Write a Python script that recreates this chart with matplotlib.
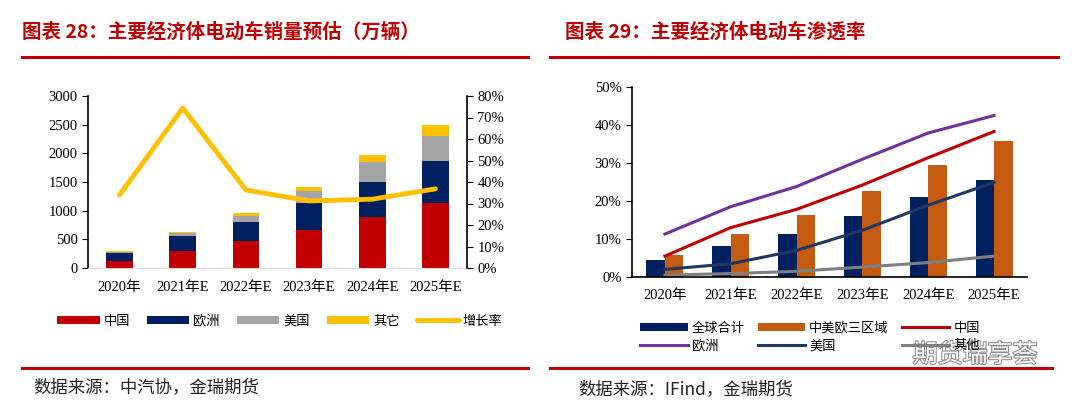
import numpy as np
import matplotlib
matplotlib.use('Agg')
import matplotlib.pyplot as plt
from matplotlib.lines import Line2D
import matplotlib.patheffects as pe

plt.rcParams['font.family'] = ['Liberation Serif', 'Noto Sans CJK SC']

years = ['2020年', '2021年E', '2022年E', '2023年E', '2024年E', '2025年E']

# 图表28 销量（万辆）
china = [115, 300, 463, 666, 897, 1130]
europe = [145, 250, 348, 474, 608, 735]
usa = [18, 58, 104, 203, 336, 440]
other = [22, 23, 46, 67, 122, 186]
growth = [34.0, 74.4, 36.3, 31.2, 32.0, 36.8]

# 图表29 渗透率（%）
global_total = [4.4, 8.2, 11.4, 16.1, 21.1, 25.5]
three_regions = [5.7, 11.4, 16.3, 22.7, 29.5, 35.8]
pen_china = [5.5, 13.0, 17.8, 24.2, 31.4, 38.3]
pen_europe = [11.3, 18.5, 23.8, 31.0, 37.9, 42.5]
pen_usa = [2.0, 3.5, 7.0, 12.3, 18.9, 24.9]
pen_other = [0.5, 0.9, 1.5, 2.6, 3.8, 5.5]

RED = '#C00000'
NAVY = '#002060'
GRAY = '#A5A5A5'
YELLOW = '#FFC000'
ORANGE = '#C55A11'
PURPLE = '#7030A0'
CJK = ['Noto Sans CJK SC', 'DejaVu Sans']
TICK = 10.5

fig = plt.figure(figsize=(10.8, 4.05), dpi=100)
W, H = 1080, 405

def px(x, y):
    return x / W, 1 - y / H

def hline(x0, x1, y):
    fig.add_artist(Line2D([x0 / W, x1 / W], [1 - y / H, 1 - y / H],
                          transform=fig.transFigure, color=RED, lw=2.2))

# titles and frame lines
fig.text(*px(22, 32), '图表 28：主要经济体电动车销量预估（万辆）', color=RED,
         fontsize=14, fontweight='bold', family=CJK, va='center')
fig.text(*px(565, 32), '图表 29：主要经济体电动车渗透率', color=RED,
         fontsize=14, fontweight='bold', family=CJK, va='center')
hline(22, 528, 57)
hline(550, 1058, 57)
hline(22, 528, 368)
hline(550, 1052, 368)
fig.text(*px(33, 387), '数据来源：中汽协，金瑞期货', fontsize=12.5, family=CJK,
         va='center', color='#222222')
fig.text(*px(578, 389), '数据来源：IFind，金瑞期货', fontsize=12.5, family=CJK,
         va='center', color='#222222')

# ---- left chart ----
ax = fig.add_axes([88 / W, 1 - 268 / H, (467 - 88) / W, (268 - 96) / H])
x = np.arange(len(years))
bw = 0.42
b1 = ax.bar(x, china, bw, color=RED)
bot = np.array(china)
b2 = ax.bar(x, europe, bw, bottom=bot, color=NAVY)
bot = bot + np.array(europe)
b3 = ax.bar(x, usa, bw, bottom=bot, color=GRAY)
bot = bot + np.array(usa)
b4 = ax.bar(x, other, bw, bottom=bot, color=YELLOW)
ax.set_xlim(-0.5, 5.5)
ax.set_ylim(0, 3000)
ax.set_yticks(range(0, 3001, 500))
ax.set_xticks(x)
ax.set_xticklabels(years, fontsize=TICK)
ax.tick_params(axis='y', labelsize=TICK, length=4, direction='out')
ax.tick_params(axis='x', length=0, pad=9)
for s in ['top', 'right']:
    ax.spines[s].set_visible(False)
ax.spines['bottom'].set_color('#D9D9D9')
ax.spines['left'].set_linewidth(1.2)

ax2 = ax.twinx()
ln, = ax2.plot(x, growth, color=YELLOW, lw=3.5, solid_capstyle='round')
ax2.set_ylim(0, 80)
ax2.set_yticks(range(0, 81, 10))
ax2.set_yticklabels([f'{v}%' for v in range(0, 81, 10)])
ax2.tick_params(axis='y', labelsize=TICK, length=4, direction='out')
for s in ['top', 'left', 'bottom']:
    ax2.spines[s].set_visible(False)
ax2.spines['right'].set_linewidth(1.2)

fig.legend([b1, b2, b3, b4, ln], ['中国', '欧洲', '美国', '其它', '增长率'],
           loc='center', bbox_to_anchor=px(280, 321), ncol=5, frameon=False,
           prop={'family': CJK, 'size': 9.5}, handlelength=3.2, handleheight=0.6,
           handletextpad=0.3, columnspacing=1.3)

# ---- right chart ----
axr = fig.add_axes([632 / W, 1 - 277 / H, (1027 - 632) / W, (277 - 87) / H])
bw2 = 0.28
r1 = axr.bar(x - bw2 / 2, global_total, bw2, color=NAVY)
r2 = axr.bar(x + bw2 / 2, three_regions, bw2, color=ORANGE)
l1, = axr.plot(x, pen_china, color=RED, lw=2.2)
l2, = axr.plot(x, pen_europe, color=PURPLE, lw=2.2)
l3, = axr.plot(x, pen_usa, color='#1F3864', lw=2.2)
l4, = axr.plot(x, pen_other, color='#7F7F7F', lw=2.2)
axr.set_xlim(-0.5, 5.5)
axr.set_ylim(0, 50)
axr.set_yticks(range(0, 51, 10))
axr.set_yticklabels([f'{v}%' for v in range(0, 51, 10)])
axr.set_xticks(x)
axr.set_xticklabels(years, fontsize=TICK)
axr.tick_params(axis='y', labelsize=TICK, length=4, direction='out')
axr.tick_params(axis='x', length=0, pad=9)
for s in ['top', 'right']:
    axr.spines[s].set_visible(False)
axr.spines['left'].set_linewidth(1.2)
axr.spines['bottom'].set_linewidth(1.2)

fig.legend([r1, l2, r2, l3, l1, l4],
           ['全球合计', '欧洲', '中美欧三区域', '美国', '中国', '其他'],
           loc='center', bbox_to_anchor=px(810, 337), ncol=3, frameon=False,
           prop={'family': CJK, 'size': 9.5}, handlelength=3.6, handleheight=0.6,
           handletextpad=0.3, columnspacing=1.0, labelspacing=0.35)

# watermark
fig.text(*px(975, 355), '期货瑞享荟', fontsize=18, family=CJK, va='center',
         ha='center', color='white',
         path_effects=[pe.withStroke(linewidth=1.5, foreground='#8C8C8C')])

fig.savefig('out.png', dpi=100)
